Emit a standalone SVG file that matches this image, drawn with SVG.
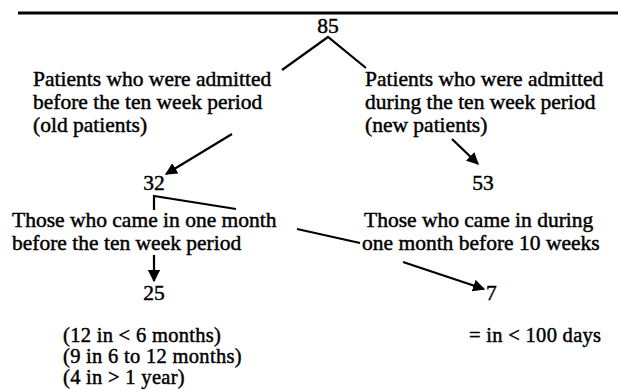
<svg xmlns="http://www.w3.org/2000/svg" width="618" height="390" viewBox="0 0 618 390">
<style>
text{font-family:"Liberation Serif","Times New Roman",serif;font-size:21.5px;fill:#000;stroke:#000;stroke-width:0.45px}
.b{font-size:20.5px;letter-spacing:0.3px}
.c{stroke:#000;stroke-width:2.2;fill:none}
.n{text-anchor:middle}
</style>
<defs>
<marker id="ah" viewBox="0 0 10 10" refX="9" refY="5" markerWidth="5.5" markerHeight="5.5" orient="auto" markerUnits="strokeWidth">
<path d="M0,0 L10,5 L0,10 z" fill="#000"/>
</marker>
</defs>
<rect x="18" y="11.5" width="600" height="3" fill="#000"/>
<g id="n85"><text class="n" x="328" y="33">85</text></g>
<g id="old"><text x="33" y="86">Patients who were admitted</text><text x="33" y="109">before the ten week period</text><text x="33" y="132">(old patients)</text></g>
<g id="new"><text x="365" y="86">Patients who were admitted</text><text x="365" y="109">during the ten week period</text><text x="365" y="132">(new patients)</text></g>
<g id="n32"><text class="n" x="154" y="190">32</text></g>
<g id="n53"><text class="n" x="483" y="190">53</text></g>
<g id="oneMonth"><text x="12" y="227">Those who came in one month</text><text x="12" y="250">before the ten week period</text></g>
<g id="during"><text x="364" y="227">Those who came in during</text><text x="362" y="250">one month before 10 weeks</text></g>
<g id="n25"><text class="n" x="154" y="300">25</text></g>
<g id="n7"><text x="486" y="300">7</text></g>
<g id="breakdown"><text class="b" x="63" y="342">(12 in &lt; 6 months)</text><text class="b" x="63" y="363">(9 in 6 to 12 months)</text><text class="b" x="63" y="384">(4 in &gt; 1 year)</text></g>
<g id="days"><text class="b" x="469" y="342">= in &lt; 100 days</text></g>
<g id="connectors">
<polyline class="c" points="282,70 328,37 366,68"/>
<line class="c" x1="232" y1="134" x2="166" y2="174" marker-end="url(#ah)"/>
<line class="c" x1="452" y1="139" x2="478" y2="164" marker-end="url(#ah)"/>
<polyline class="c" points="154,210 154,196 236,209"/>
<line class="c" x1="297" y1="229" x2="360" y2="243"/>
<line class="c" x1="154" y1="255" x2="154" y2="281" marker-end="url(#ah)"/>
<line class="c" x1="403" y1="262" x2="484" y2="289" marker-end="url(#ah)"/>
</g>
</svg>
